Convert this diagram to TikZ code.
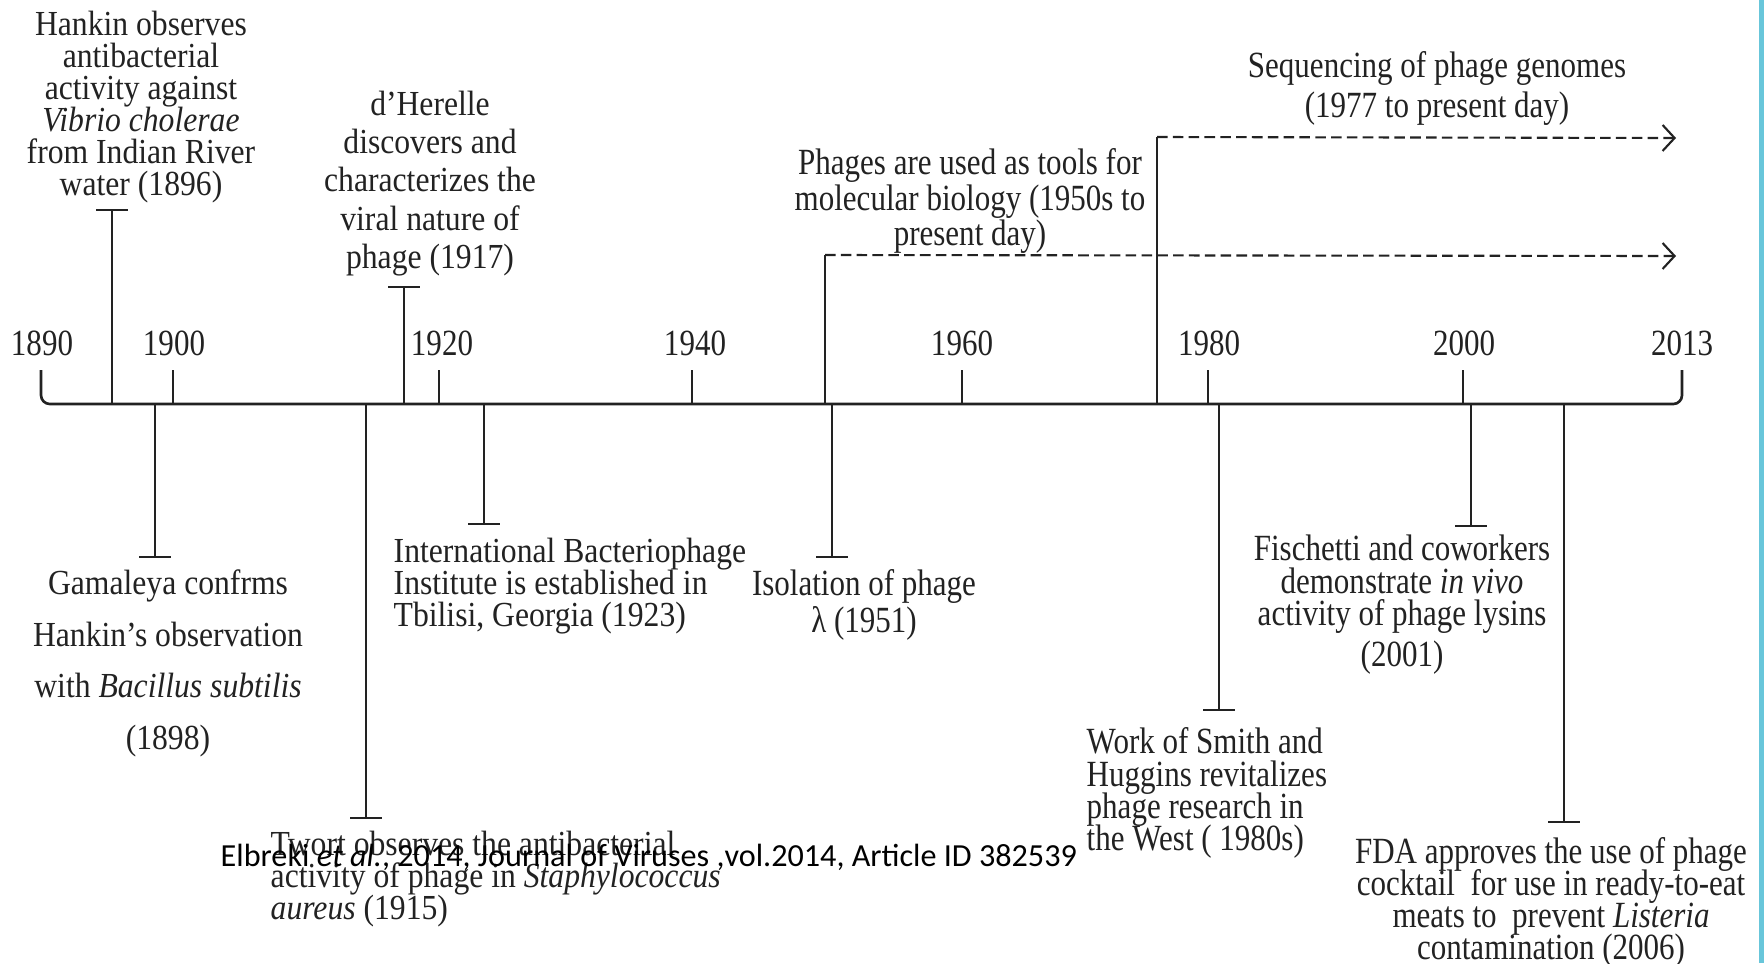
\documentclass[tikz,border=0pt]{standalone}
\usepackage{fontspec}
\usepackage{tikz}
\usetikzlibrary{arrows.meta}
\setmainfont{Liberation Serif}[FakeStretch=0.9]
\newfontfamily\narrowfont{Liberation Serif}[FakeStretch=0.84]
\newfontfamily\citefont{Carlito}
\definecolor{edgeblue}{RGB}{104,198,218}
\definecolor{ink}{RGB}{34,34,34}
\setlength{\lineskiplimit}{-100pt}
\tikzset{
	evt/.style={inner sep=0pt, align=center, text=ink, anchor=north},
	evtl/.style={inner sep=0pt, align=left, text=ink, anchor=north west},
	wide/.style={font=\fontsize{10}{#1}\selectfont},
	slim/.style={font=\narrowfont\fontsize{10.5}{#1}\selectfont},
	axisline/.style={line width=0.75pt, ink},
	stem/.style={line width=0.6pt, ink, -{Bar[width=9pt]}},
	span/.style={line width=0.6pt, ink, dash pattern=on 3pt off 1.5pt, -{Straight Barb[length=1.2mm,width=2.6mm]}},
	yearlab/.style={inner sep=0pt, anchor=base, text=ink, font=\narrowfont\fontsize{10.5}{12}\selectfont}
}
\begin{document}
\begin{tikzpicture}[x=0.01cm, y=-0.01cm]
	\fill[white] (0,0) rectangle (1764,963);
	\useasboundingbox (0,0) rectangle (1764,963);
	\fill[edgeblue] (1759,0) rectangle (1764,963);
	\draw[axisline, rounded corners=2.5pt] (41,370) -- (41,404) -- (1682,404) -- (1682,370);
	\foreach \px in {173,439,692,962,1208,1463}
		\draw[axisline] (\px,404) -- (\px,370);
	\foreach \yr/\px in {1890/42,1900/174,1920/442,1940/695,1960/962,1980/1209,2000/1464,2013/1682}
		\node[yearlab] (y\yr) at (\px,355) {\yr};
	\foreach \name/\px/\py in {hankin/112/209, herelle/404/286, gamaleya/155/558, twort/366/819, institute/484/525, lambda/832/558, smith/1219/711, fischetti/1471/527, fda/1564/823}
		\draw[stem] (\px,404) coordinate (\name-a) -- (\px,\py) coordinate (\name-b);
	\draw[axisline, line width=0.6pt] (825,404) coordinate (phages-a) -- (825,255) coordinate (phages-b);
	\draw[axisline, line width=0.6pt] (1157,404) coordinate (sequencing-a) -- (1157,137) coordinate (sequencing-b);
	\coordinate (now-low) at (1676,256);
	\coordinate (now-high) at (1676,138);
	\draw[span] (phages-b) -- (now-low);
	\draw[span] (sequencing-b) -- (now-high);
	\node[evt, wide=9.1] (hankin) at (141,10) {Hankin observes\\antibacterial\\activity against\\\textit{Vibrio cholerae}\\from Indian River\\water (1896)};
	\node[evt, wide=10.9] (herelle) at (430,90) {d’Herelle\\discovers and\\characterizes the\\viral nature of\\phage (1917)};
	\node[evt, slim=10.1] (phages) at (970,148) {Phages are used as tools for\\molecular biology (1950s to\\present day)};
	\node[evt, slim=11.3] (sequencing) at (1437,51) {Sequencing of phage genomes\\(1977 to present day)};
	\node[evt, wide=14.7] (gamaleya) at (168,569) {Gamaleya confrms\\Hankin’s observation\\with \textit{Bacillus subtilis}\\(1898)};
	\node[evtl, wide=9.1] (institute) at (393,537) {International Bacteriophage\\Institute is established in\\Tbilisi, Georgia (1923)};
	\node[evtl, wide=9.1] (twort) at (270,830) {Twort observes the antibacterial\\activity of phage in \textit{Staphylococcus}\\\textit{aureus} (1915)};
	\node[evt, slim=10.5] (lambda) at (864,569) {Isolation of phage\\λ (1951)};
	\node[evt, slim=9.3] (fischetti) at (1402,534) {Fischetti and coworkers\\demonstrate \textit{in vivo}\\activity of phage lysins\\[2.4pt](2001)};
	\node[evtl, slim=9.2] (smith) at (1086,727) {Work of Smith and\\Huggins revitalizes\\phage research in\\the West ( 1980s)};
	\node[evt, slim=9.1] (fda) at (1551,837) {FDA approves the use of phage\\cocktail\ \ for use in ready-to-eat\\meats to\ \ prevent \textit{Listeria}\\contamination (2006)};
	\node[inner sep=0pt, anchor=base west, font=\citefont\fontsize{9.15}{11}\selectfont] (cite) at (220,866) {Elbreki \textit{et al.}, 2014, Journal of Viruses ,vol.2014, Article ID 382539};
\end{tikzpicture}
\end{document}
